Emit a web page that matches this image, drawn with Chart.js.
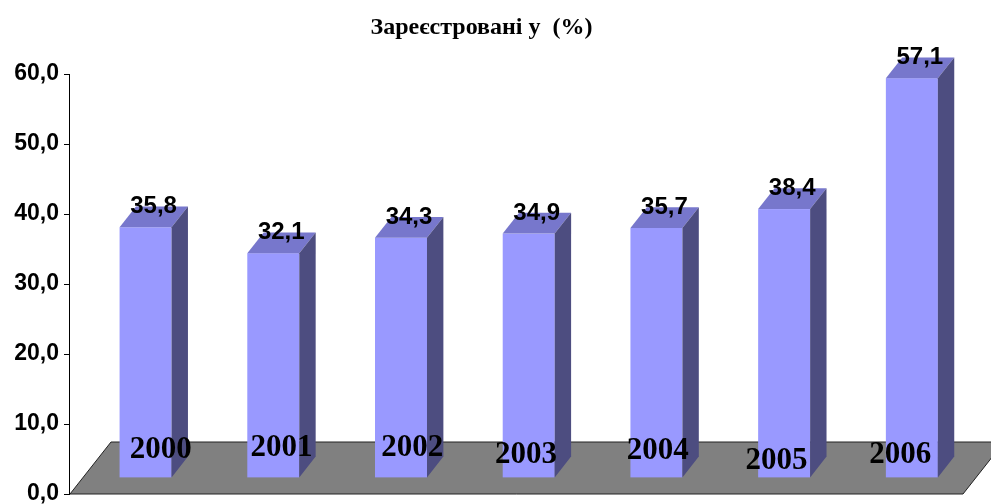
<!DOCTYPE html>
<html>
<head>
<meta charset="utf-8">
<script src="https://cdn.jsdelivr.net/npm/chart.js@4.4.1/dist/chart.umd.min.js"></script>
<style>
  html, body { margin: 0; padding: 0; background: #ffffff; }
  #wrap { width: 991px; height: 504px; }
</style>
</head>
<body>
<div id="wrap"><canvas id="chart" width="991" height="504"></canvas></div>
<script>
// data
const years = ['2000', '2001', '2002', '2003', '2004', '2005', '2006'];
const shares = [35.8, 32.1, 34.3, 34.9, 35.7, 38.4, 57.1];
const yMin = 0;
const yMax = 60;
const yStep = 10;

// floor depth and where the bars sit in it
const DEPTH_X = 41;
const DEPTH_Y = 52;
const BAR_FRONT = 0.31;
const BAR_BACK = 0.71;

// the year captions on the floor are a bit scattered in the original
const yearNudgeX = [28, 21, 24, 10, 14, 5, 1];
const yearNudgeY = [-36, -38, -38, -31, -35, -25, -31];

function fmt(v) {
    return v.toFixed(1).replace('.', ',');
}

const bar3d = {
    id: 'bar3d',
    beforeDatasetsDraw(chart) {
        const ctx = chart.ctx;
        const a = chart.chartArea;
        ctx.save();
        ctx.beginPath();
        ctx.moveTo(a.left + 1, a.bottom);
        ctx.lineTo(a.right, a.bottom);
        ctx.lineTo(a.right + DEPTH_X, a.bottom - DEPTH_Y);
        ctx.lineTo(a.left + 1 + DEPTH_X, a.bottom - DEPTH_Y);
        ctx.closePath();
        ctx.fillStyle = '#808080';
        ctx.fill();
        ctx.strokeStyle = '#222222';
        ctx.lineWidth = 1;
        ctx.stroke();
        ctx.restore();
    },
    afterDatasetsDraw(chart) {
        const ctx = chart.ctx;
        const a = chart.chartArea;
        const meta = chart.getDatasetMeta(0);
        const bdx = DEPTH_X * (BAR_BACK - BAR_FRONT);
        const bdy = DEPTH_Y * (BAR_BACK - BAR_FRONT);
        ctx.save();
        meta.data.forEach((el, i) => {
            const w = el.width;
            const fx = el.x - w / 2 + DEPTH_X * BAR_FRONT;
            const topY = el.y - DEPTH_Y * BAR_FRONT;
            const baseY = el.base - DEPTH_Y * BAR_FRONT;

            // front
            ctx.fillStyle = '#9999FF';
            ctx.fillRect(fx, topY, w, baseY - topY);

            // top
            ctx.beginPath();
            ctx.moveTo(fx, topY);
            ctx.lineTo(fx + w, topY);
            ctx.lineTo(fx + w + bdx, topY - bdy);
            ctx.lineTo(fx + bdx, topY - bdy);
            ctx.closePath();
            ctx.fillStyle = '#7777CC';
            ctx.fill();

            // side
            ctx.beginPath();
            ctx.moveTo(fx + w, topY);
            ctx.lineTo(fx + w + bdx, topY - bdy);
            ctx.lineTo(fx + w + bdx, baseY - bdy);
            ctx.lineTo(fx + w, baseY);
            ctx.closePath();
            ctx.fillStyle = '#4D4D80';
            ctx.fill();
        });

        // year captions
        ctx.fillStyle = '#000000';
        ctx.textAlign = 'center';
        ctx.textBaseline = 'alphabetic';
        ctx.font = 'bold 31px "Liberation Serif", "Times New Roman", serif';
        meta.data.forEach((el, i) => {
            ctx.fillText(chart.data.labels[i], el.x + yearNudgeX[i], a.bottom + yearNudgeY[i]);
        });

        // values on top
        ctx.font = 'bold 24px "Liberation Sans", Arial, sans-serif';
        meta.data.forEach((el, i) => {
            const w = el.width;
            const fx = el.x - w / 2 + DEPTH_X * BAR_FRONT;
            const topY = el.y - DEPTH_Y * BAR_FRONT;
            const v = chart.data.datasets[0].data[i];
            ctx.fillText(fmt(v), fx + w / 2 + 8, topY - 14);
        });
        ctx.restore();
    }
};

const ctx = document.getElementById('chart');

new Chart(ctx, {
    type: 'bar',
    data: {
        labels: years,
        datasets: [{
            label: 'Зареєстровані у (%)',
            data: shares,
            backgroundColor: 'rgba(0,0,0,0)',
            borderWidth: 0,
            categoryPercentage: 1,
            barPercentage: 0.407
        }]
    },
    options: {
        responsive: false,
        animation: false,
        devicePixelRatio: 1,
        layout: {
            padding: { top: 0, right: 28, bottom: 10, left: 0 }
        },
        plugins: {
            legend: { display: false },
            tooltip: { enabled: false },
            title: {
                display: true,
                text: 'Зареєстровані у  (%)',
                color: '#000000',
                font: { family: '"Liberation Serif", "Times New Roman", serif', size: 24, weight: 'bold' },
                padding: { top: 13, bottom: 32.2 }
            }
        },
        scales: {
            x: {
                display: false,
                offset: true
            },
            y: {
                min: yMin,
                max: yMax,
                afterFit(scale) {
                    scale.width = 69;
                    scale.paddingTop = 0;
                    scale.paddingBottom = 0;
                },
                grid: {
                    drawOnChartArea: false,
                    drawTicks: true,
                    tickLength: 5,
                    color: '#000000'
                },
                border: { display: true, color: '#000000' },
                ticks: {
                    stepSize: yStep,
                    padding: 5,
                    color: '#000000',
                    font: { family: '"Liberation Sans", Arial, sans-serif', size: 23, weight: 'bold' },
                    callback: (v) => fmt(v)
                }
            }
        }
    },
    plugins: [bar3d]
});
</script>
</body>
</html>
